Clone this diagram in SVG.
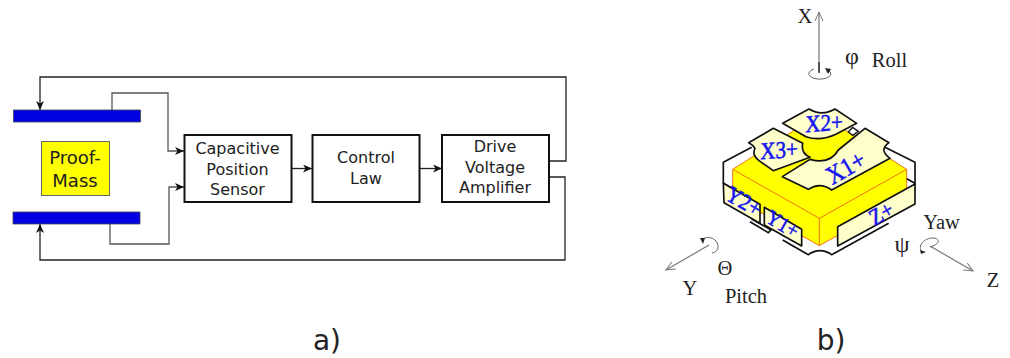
<svg xmlns="http://www.w3.org/2000/svg" width="1010" height="358" viewBox="0 0 1010 358">
<defs>
<marker id="ah" markerUnits="userSpaceOnUse" markerWidth="10" markerHeight="8" refX="9" refY="4" orient="auto"><path d="M0,0 L9,4 L0,8 L2.500,4 Z" fill="#111"/></marker>
<marker id="op" markerUnits="userSpaceOnUse" markerWidth="12" markerHeight="10" refX="10" refY="5" orient="auto"><path d="M1,1 L10,5 L1,9" fill="none" stroke="#777" stroke-width="1"/></marker>
</defs>
<style>
.w{fill:none;stroke:#222;stroke-width:1.3}
.g{fill:none;stroke:#555;stroke-width:1.3}
.box{fill:#fff;stroke:#111;stroke-width:2}
.el{fill:#0000e0;stroke:#445;stroke-width:.8}
.t{font-family:"DejaVu Sans",sans-serif;font-size:16px;fill:#222;text-anchor:middle}
.cap{font-family:"DejaVu Sans",sans-serif;font-size:28px;fill:#222;text-anchor:middle}
.s{font-family:"Liberation Serif",serif;font-size:20.500px;fill:#222;text-anchor:middle}
.b{font-family:"Liberation Serif",serif;font-size:24px;fill:#1414f0;stroke:#1414f0;stroke-width:.55;text-anchor:middle}
.p{fill:#ffffcc;stroke:#111;stroke-width:5;stroke-linejoin:round}
.o{fill:none;stroke:#111;stroke-width:5}
.r{fill:none;stroke:#f05a10;stroke-width:2.600}
.ax{fill:none;stroke:#777;stroke-width:1.200}
.ro{fill:none;stroke:#666;stroke-width:1}
</style>
<g id="connectors">
<path class="g" d="M112,110V93H168V151H184" marker-end="url(#ah)"/>
<path class="g" d="M110,224V244H169V187H184" marker-end="url(#ah)"/>
<path class="w" d="M549,161H566V77H40V110" marker-end="url(#ah)"/>
<path class="w" d="M549,177H565V260H40V224" marker-end="url(#ah)"/>
<path class="w" d="M292,168.500H312" marker-end="url(#ah)"/>
<path class="w" d="M420,168.500H442" marker-end="url(#ah)"/>
</g>
<g id="electrode-top"><rect class="el" x="13.500" y="110" width="127" height="12"/></g>
<g id="electrode-bottom"><rect class="el" x="13" y="212" width="127" height="12"/></g>
<g id="proof-mass"><rect x="41.500" y="141.500" width="68" height="54" fill="#ffff00" stroke="#666" stroke-width="1"/><text class="t" style="font-size:18px" x="75" y="164">Proof-</text><text class="t" style="font-size:18px" x="75" y="187">Mass</text></g>
<g id="sensor"><rect class="box" x="184.500" y="135" width="107" height="67"/><text class="t" x="237.500" y="154">Capacitive</text><text class="t" x="237.500" y="175">Position</text><text class="t" x="237.500" y="195">Sensor</text></g>
<g id="control"><rect class="box" x="312.500" y="135" width="107" height="67"/><text class="t" x="366" y="163">Control</text><text class="t" x="366" y="184">Law</text></g>
<g id="amp"><rect class="box" x="442" y="135" width="107" height="67"/><text class="t" x="495" y="152">Drive</text><text class="t" x="495" y="173">Voltage</text><text class="t" x="495" y="193">Amplifier</text></g>
<text class="cap" x="327" y="350">a)</text>
<text class="cap" x="831" y="350">b)</text>
<g id="cube">
<g transform="translate(710 100) scale(.33333)">
<polygon points="68,208 330,42 590,208 590,290 328,437 68,290" fill="#ffff00" stroke="#f05a10" stroke-width="2.600"/>
<ellipse cx="330" cy="150" rx="52" ry="32" fill="#ffff00"/>
<path class="r" d="M68,208L328,355L590,208M328,355V437"/>
<path class="o" d="M125,142L40,187V250L68,266M525,142L615,187V250L590,236"/>
<path class="o" d="M120,365L175,398L183,390L125,357M218,420L295,464Q330,440 365,464L536,370"/>
<path d="M415,96L428,82L445,94L428,106Z" fill="#fff" stroke="#111" stroke-width="4"/>
<path class="p" d="M218,70L297,27Q335,50 375,27L440,70L378,103Q330,125 288,110Z"/>
<path class="p" d="M116,128L190,85L278,130Q272,160 300,172L190,212L147,182Q125,165 135,145Q130,135 116,128Z"/>
<path class="p" d="M217,230L300,178Q360,195 385,150L465,85L537,128Q505,150 540,175L365,270Q330,245 295,268Z"/>
<polygon class="p" points="40,250 150,313 150,370 42,308"/>
<polygon class="p" points="163,322 275,388 275,438 163,375"/>
<polygon class="p" points="383,380 615,252 615,312 383,438"/>
</g>
<text class="b" transform="translate(824 131) skewY(-4) scale(.88 1)">X2+</text>
<text class="b" transform="translate(779 158) skewY(-4) scale(.88 1)">X3+</text>
<text class="b" style="font-size:26px" transform="translate(850 175) rotate(-30) scale(.88 1)">X1+</text>
<text class="b" style="font-size:23px" transform="translate(740 208) rotate(30) scale(.9 1)">Y2+</text>
<text class="b" style="font-size:21px" transform="translate(779 230) rotate(30) scale(.9 1)">Y1+</text>
<text class="b" style="font-size:23px" transform="translate(885 220) rotate(-30) scale(.9 1)">Z+</text>
</g>
<g id="axis-x">
<path class="ax" d="M819,72V12" marker-end="url(#op)"/>
<path d="M819,62V73" stroke="#222" stroke-width="1.300" fill="none"/>
<path class="ro" d="M814,69A11,5.500 0 1 0 828,70"/>
<path d="M825,68L831,69L828,74Z" fill="#222"/>
<text class="s" x="805" y="23">X</text><text class="s" style="font-size:24px" x="852" y="64">φ</text><text class="s" x="889.500" y="67">Roll</text>
</g>
<g id="axis-y">
<path class="ax" d="M709,245L666,270" marker-end="url(#op)"/>
<path class="ro" d="M702,240C706,236 712,237 716,241C720,246 718,252 712,253"/>
<path d="M700,238L705,238L703,244Z" fill="#222"/>
<text class="s" x="690" y="295">Y</text><text class="s" x="725" y="275">Θ</text><text class="s" x="746" y="303">Pitch</text>
</g>
<g id="axis-z">
<path class="ax" d="M930,246L973,271" marker-end="url(#op)"/>
<path class="ro" d="M922,252C917,246 924,238 933,238C940,238 941,244 930,247"/>
<path d="M920,250L926,252L921,254Z" fill="#222"/>
<text class="s" x="993" y="287">Z</text><text class="s" style="font-size:24px" x="902" y="252">ψ</text><text class="s" x="941.500" y="229">Yaw</text>
</g>
</svg>
